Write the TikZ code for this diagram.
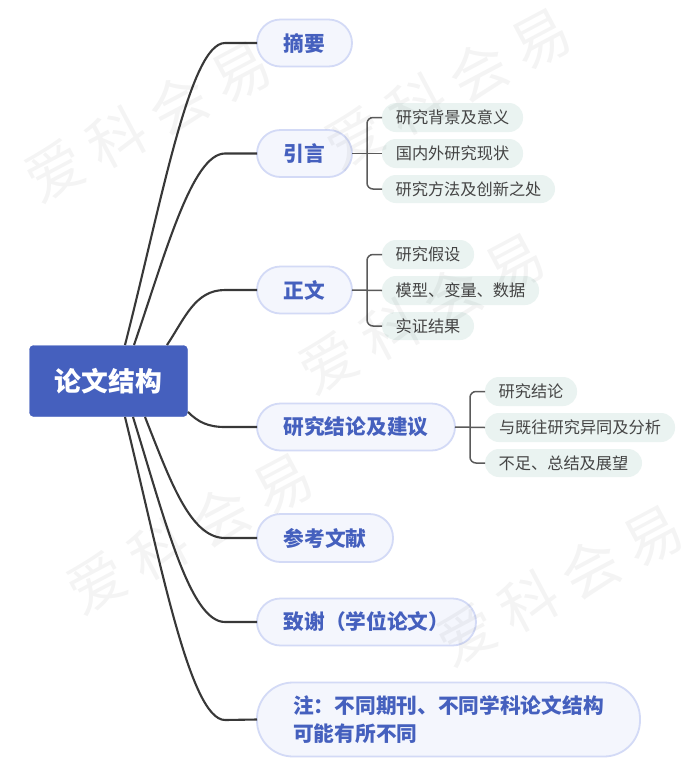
\documentclass[tikz,border=0pt]{standalone}
\usepackage{fontspec}
\setmainfont{Noto Sans CJK SC}
\definecolor{rootblue}{HTML}{4560BE}
\definecolor{lonefill}{HTML}{F4F6FD}
\definecolor{loneline}{HTML}{D3DAF6}
\definecolor{ltwofill}{HTML}{EAF3F1}
\definecolor{ltwotext}{HTML}{444444}
\definecolor{mainline}{HTML}{383838}
\definecolor{subline}{HTML}{5A5A5A}
\tikzset{
  rootbox/.style={draw=rootblue,fill=rootblue,rounded corners=4pt,inner sep=0pt,outer sep=0pt,text=white,font=\bfseries\fontsize{26.8}{30}\selectfont},
  lonebox/.style={draw=loneline,fill=lonefill,line width=1.8pt,rounded corners=#1,inner sep=0pt,outer sep=0pt,text=rootblue,align=left,font=\bfseries\fontsize{20.7}{28}\selectfont},
  lonebox/.default=23.5pt,
  ltwobox/.style={draw=none,fill=ltwofill,rounded corners=14pt,inner sep=0pt,outer sep=0pt,text=ltwotext,font=\fontsize{16.2}{20}\selectfont},
  mainlink/.style={draw=mainline,line width=2.1pt},
  sublink/.style={draw=subline,line width=1.5pt,rounded corners=6pt},
  stem/.style={draw=subline,line width=1.5pt},
  wmark/.style={text=black,opacity=0.045,rotate=28,inner sep=0pt,font=\fontsize{58}{58}\selectfont}
}
\newcommand{\wmtext}{爱\hspace{12pt}科\hspace{12pt}会\hspace{12pt}易}
\newcommand{\dnt}[1]{\raisebox{-1pt}{#1}}
\begin{document}
\begin{tikzpicture}[x=1pt,y=-1pt]
\useasboundingbox[fill=white] (0,0) rectangle (693,764);

\node[rootbox,minimum width=158,minimum height=71] (root) at (108.5,381) {\dnt{论文结构}};

\node[lonebox,minimum width=95,minimum height=47] (a1) at (304.5,43) {\dnt{摘要}};
\node[lonebox,minimum width=95,minimum height=47] (a2) at (304.5,153.5) {\dnt{引言}};
\node[lonebox,minimum width=95,minimum height=47] (a3) at (304.5,290) {\dnt{正文}};
\node[lonebox,minimum width=198,minimum height=47] (a4) at (356,427) {\dnt{研究结论及建议}};
\node[lonebox,minimum width=136,minimum height=48] (a5) at (325,538) {\dnt{参考文献}};
\node[lonebox,minimum width=219,minimum height=47] (a6) at (366.5,622) {\dnt{致谢（学位论文）}};
\node[lonebox=36pt,minimum width=383,minimum height=74] (a7) at (448.5,719.5) {\vspace*{3pt}注：不同期刊、不同学科论文结构\\可能有所不同};

\node[ltwobox,minimum width=141,minimum height=29] (b1) at (452.5,117.5) {研究背景及意义};
\node[ltwobox,minimum width=141,minimum height=29] (b2) at (452.5,153.5) {国内外研究现状};
\node[ltwobox,minimum width=173,minimum height=28] (b3) at (468.5,189) {研究方法及创新之处};
\node[ltwobox,minimum width=92,minimum height=29] (c1) at (428,254.5) {研究假设};
\node[ltwobox,minimum width=157,minimum height=29] (c2) at (460.5,290.5) {模型、变量、数据};
\node[ltwobox,minimum width=92,minimum height=28] (c3) at (428,326) {实证结果};
\node[ltwobox,minimum width=92,minimum height=29] (d1) at (531,391.5) {研究结论};
\node[ltwobox,minimum width=190,minimum height=29] (d2) at (580,427.5) {与既往研究异同及分析};
\node[ltwobox,minimum width=157,minimum height=28] (d3) at (563.5,463) {不足、总结及展望};

\coordinate (s1) at (125,345);
\coordinate (s2) at (134,345);
\coordinate (s3) at (167,345);
\coordinate (s4) at (188,412);
\coordinate (s5) at (145,417);
\coordinate (s6) at (133,417);
\coordinate (s7) at (125,417);
\coordinate (jb) at (367,153.5);
\coordinate (jc) at (367,290.5);
\coordinate (jd) at (470,427.5);

\path[mainlink] (s1) .. controls (162,200) and (190,43) .. (225,43) -- (a1.west);
\path[mainlink] (s2) .. controls (165,255) and (192,153.5) .. (225,153.5) -- (a2.west);
\path[mainlink] (s3) .. controls (185,318) and (195,290) .. (225,290) -- (a3.west);
\path[mainlink] (s4) .. controls (198,422) and (208,427) .. (225,427) -- (a4.west);
\path[mainlink] (s5) .. controls (170,480) and (190,538) .. (225,538) -- (a5.west);
\path[mainlink] (s6) .. controls (165,520) and (190,622) .. (225,622) -- (a6.west);
\path[mainlink] (s7) .. controls (160,560) and (190,720) .. (225,720) -- (a7.west);

\path[stem] (a2.east) -- (b2.west);
\path[sublink] (b1.west) -| (jb) |- (b3.west);
\path[stem] (a3.east) -- (c2.west);
\path[sublink] (c1.west) -| (jc) |- (c3.west);
\path[stem] (a4.east) -- (d2.west);
\path[sublink] (d1.west) -| (jd) |- (d3.west);

\node[wmark] (w1) at (148,121) {\wmtext};
\node[wmark] (w2) at (448,88) {\wmtext};
\node[wmark] (w3) at (422,313) {\wmtext};
\node[wmark] (w4) at (190,533) {\wmtext};
\node[wmark] (w5) at (560,585) {\wmtext};
\end{tikzpicture}
\end{document}
